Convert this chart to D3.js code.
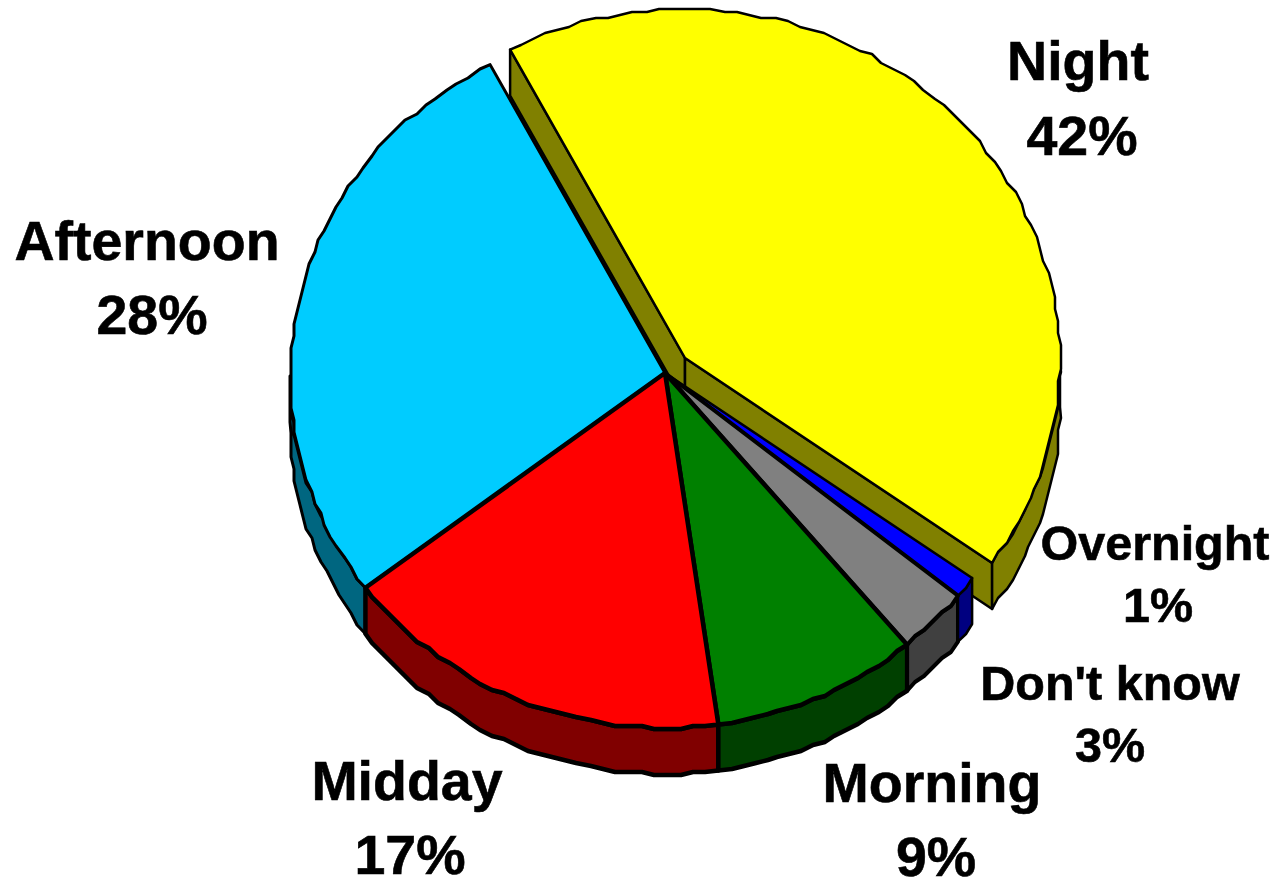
<!DOCTYPE html>
<html>
<head>
<meta charset="utf-8">
<style>
  html, body { margin: 0; background: #fff; }
  svg { display: block; }
  text { font-family: "Liberation Sans", Arial, sans-serif; font-weight: bold; fill: #000; stroke: #000; stroke-width: 0.6; text-anchor: middle; }
</style>
</head>
<body>
<svg id="chart" width="1276" height="878"></svg>
<script src="https://cdn.jsdelivr.net/npm/d3@7"></script>
<script>
  // Clockwise from the top left, same order as the original pie
  const categories = ["Night", "Overnight", "Don't know", "Morning", "Midday", "Afternoon"];
  const shares = [42.45, 1.0, 3.1, 8.9, 17.0, 27.55];

  const topColors = ["#ffff00", "#0000ff", "#808080", "#008000", "#ff0000", "#00ccff"];
  const wallColors = ["#808000", "#000080", "#404040", "#004000", "#800000", "#006680"];
  const strokeWidths = [2.5, 2.5, 4, 4.5, 4.5, 3];

  // label centres and baselines: [x, first line, second line, font size]
  const labelLayout = [
    [1078, 80, 155, 55.5],
    [1155, 560, 622, 48.5],
    [1110, 700, 762, 48.5],
    [932, 802, 876, 55.5],
    [407, 800, 874, 55.5],
    [147, 260, 334, 55.5]
  ];
  const secondLineShift = [4, 3, 0, 4, 3, 5];

  const rad = Math.PI / 180;
  const depth = 46;
  const grid = 3; // the source outline is coarse, so snap it
  const explode = {x: 20, y: -15};
  const apexLift = -0.0085; // slices meet a little above the middle of the ellipse

  const x = d3.scaleLinear().domain([-1, 1]).range([290, 1040]);
  const y = d3.scaleLinear().domain([-1, 1]).range([24, 728]);

  const start = -27.8 * rad;
  const pie = d3.pie().sort(null).startAngle(start).endAngle(start + 2 * Math.PI);
  const slices = pie(shares);

  const svg = d3.select("#chart");
  const line = d3.line();

  function snap(v) {
    return Math.round(v / grid) * grid;
  }

  function rimPoint(a) {
    return [x(Math.sin(a)), y(-Math.cos(a))];
  }

  // outline between two angles; the end points stay exact so edges meet
  function rim(a0, a1) {
    const pts = [rimPoint(a0)];
    const n = Math.max(1, Math.ceil((a1 - a0) / (2 * rad)));
    for (var i = 1; i < n; i++) {
      const p = rimPoint(a0 + (a1 - a0) * i / n);
      pts.push([snap(p[0]), snap(p[1])]);
    }
    pts.push(rimPoint(a1));
    return pts;
  }

  function lowered(pts) {
    return pts.map(function (p) { return [p[0], p[1] + depth]; }).reverse();
  }

  function drawShape(g, pts, fill, width) {
    g.append("path")
      .attr("d", line(pts) + "Z")
      .attr("fill", fill)
      .attr("stroke", "#000")
      .attr("stroke-width", width)
      .attr("stroke-linejoin", "round");
  }

  function drawWall(g, d, i) {
    // only the part of the rim facing the viewer has a visible side
    const a0 = Math.max(d.startAngle, 90 * rad);
    const a1 = Math.min(d.endAngle, 270 * rad);
    if (a1 <= a0) return;
    const pts = rim(a0, a1);
    drawShape(g, pts.concat(lowered(pts)), wallColors[i], strokeWidths[i]);
  }

  function drawCut(g, a, i) {
    const pts = [[x(0), y(apexLift)], rimPoint(a)];
    drawShape(g, pts.concat(lowered(pts)), wallColors[i], strokeWidths[i]);
  }

  function drawTop(g, d, i) {
    const pts = [[x(0), y(apexLift)]].concat(rim(d.startAngle, d.endAngle));
    drawShape(g, pts, topColors[i], strokeWidths[i]);
  }

  // Night is pulled out and sits behind the rest
  const night = svg.append("g")
    .attr("transform", "translate(" + explode.x + "," + explode.y + ")");
  drawCut(night, slices[0].startAngle, 0);
  drawCut(night, slices[0].endAngle, 0);
  drawWall(night, slices[0], 0);
  drawTop(night, slices[0], 0);

  const rest = svg.append("g");
  [5, 4, 3, 2, 1].forEach(function (i) { drawWall(rest, slices[i], i); });
  [1, 5, 2, 3, 4].forEach(function (i) { drawTop(rest, slices[i], i); });

  const labels = svg.append("g");
  categories.forEach(function (name, i) {
    const l = labelLayout[i];
    labels.append("text")
      .attr("x", l[0]).attr("y", l[1])
      .attr("font-size", l[3])
      .text(name);
    labels.append("text")
      .attr("x", l[0] + secondLineShift[i]).attr("y", l[2])
      .attr("font-size", l[3])
      .text(Math.round(shares[i]) + "%");
  });
</script>
</body>
</html>
